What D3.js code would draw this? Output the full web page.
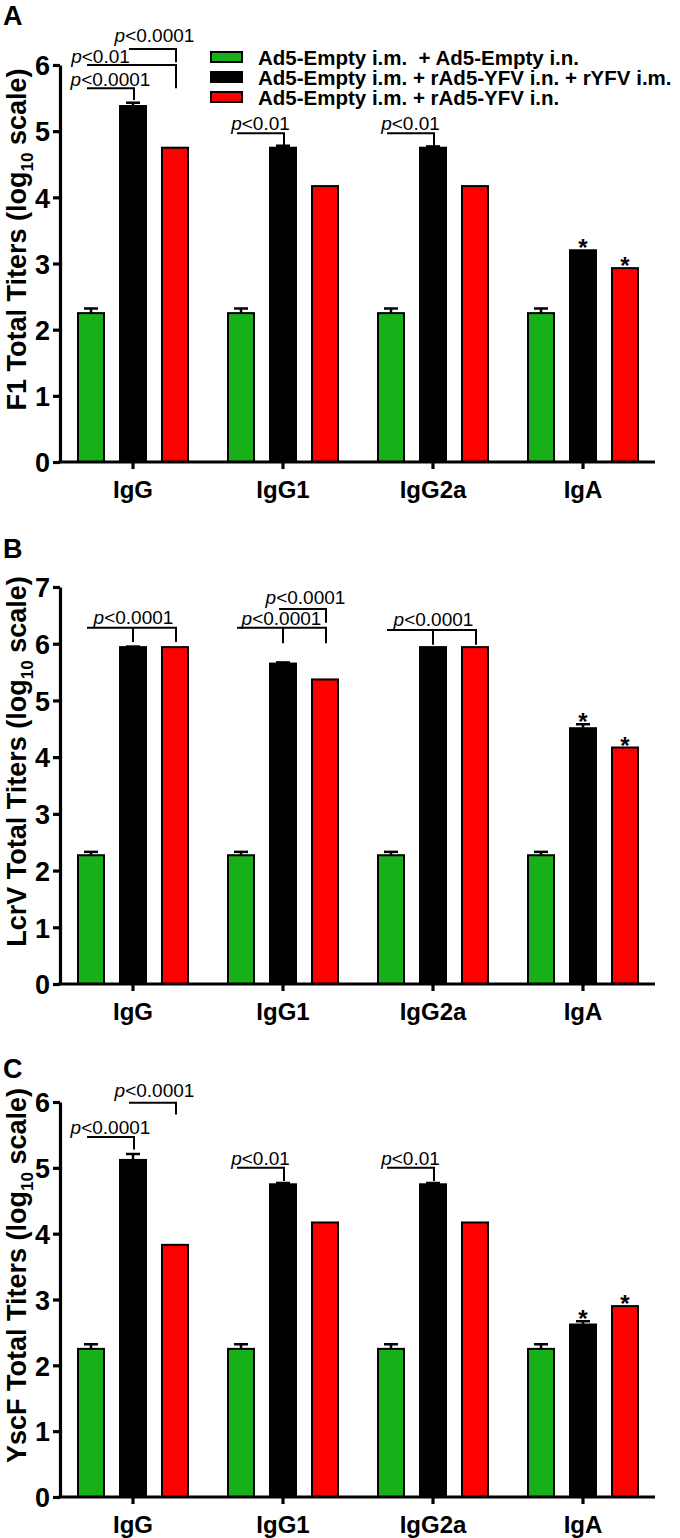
<!DOCTYPE html>
<html><head><meta charset="utf-8">
<script src="https://cdn.jsdelivr.net/npm/d3@7/dist/d3.min.js"></script>
<style>
html,body{margin:0;padding:0;background:#fff;}
svg{display:block;font-family:"Liberation Sans",Arial,sans-serif;}
</style></head>
<body>
<svg id="chart" width="680" height="1538"></svg>
<script>
// ---------- DATA ----------
const categories = ["IgG", "IgG1", "IgG2a", "IgA"];
const seriesNames = [
  "Ad5-Empty i.m.  + Ad5-Empty i.n.",
  "Ad5-Empty i.m. + rAd5-YFV i.n. + rYFV i.m.",
  "Ad5-Empty i.m. + rAd5-YFV i.n."
];
const panelLetters = ["A", "B", "C"];
const panelAntigens = ["F1", "LcrV", "YscF"];
const panelYMax = [6, 7, 6];

// Panel A: F1
const f1Green = [2.25, 2.25, 2.25, 2.25];
const f1Black = [5.38, 4.75, 4.75, 3.20];
const f1Red   = [4.75, 4.17, 4.17, 2.93];
const f1GreenErr = [0.07, 0.07, 0.07, 0.07];
const f1BlackErr = [0.05, 0.03, 0.02, 0.0];
const f1RedErr   = [0, 0, 0, 0];
const f1Stars = [[3, 1], [3, 2]];
const f1Brackets = [
  {cat: 0, from: 0, to: 1, level: 5.65, legs: [[1, 5.47]], label: "<0.0001", dx: 0, dy: -2},
  {cat: 0, from: 0, to: 2, level: 6.00, legs: [[2, 5.65]], label: "<0.01", dx: -31, dy: -2},
  {cat: 0, from: 1, to: 2, level: 6.24, legs: [[2, 6.04]], label: "<0.0001", dx: 2, dy: -7},
  {cat: 1, from: 0, to: 1, level: 4.97, legs: [[1, 4.74]], label: "<0.01", dx: 0, dy: -3},
  {cat: 2, from: 0, to: 1, level: 4.97, legs: [[1, 4.74]], label: "<0.01", dx: 0, dy: -3}
];

// Panel B: LcrV
const lcrvGreen = [2.27, 2.27, 2.27, 2.27];
const lcrvBlack = [5.94, 5.65, 5.94, 4.51];
const lcrvRed   = [5.94, 5.37, 5.94, 4.17];
const lcrvGreenErr = [0.06, 0.06, 0.06, 0.06];
const lcrvBlackErr = [0.01, 0.02, 0.0, 0.07];
const lcrvRedErr   = [0, 0, 0, 0];
const lcrvStars = [[3, 1], [3, 2]];
const lcrvBrackets = [
  {cat: 0, from: 0, to: 2, level: 6.28, legs: [[1, 6.03], [2, 6.03]], label: "<0.0001", dx: 2, dy: -4},
  {cat: 1, from: 0, to: 2, level: 6.28, legs: [[1, 6.01], [2, 6.01]], label: "<0.0001", dx: 0, dy: -3},
  {cat: 1, from: 1, to: 2, level: 6.61, legs: [[2, 6.37]], label: "<0.0001", dx: 3, dy: -5},
  {cat: 2, from: 0, to: 2, level: 6.24, legs: [[1, 5.98], [2, 5.98]], label: "<0.0001", dx: 2, dy: -4}
];

// Panel C: YscF
const yscfGreen = [2.25, 2.25, 2.25, 2.25];
const yscfBlack = [5.12, 4.75, 4.75, 2.62];
const yscfRed   = [3.83, 4.17, 4.17, 2.90];
const yscfGreenErr = [0.07, 0.07, 0.07, 0.07];
const yscfBlackErr = [0.09, 0.02, 0.02, 0.05];
const yscfRedErr   = [0, 0, 0, 0];
const yscfStars = [[3, 1], [3, 2]];
const yscfBrackets = [
  {cat: 0, from: 1, to: 2, level: 5.99, legs: [[2, 5.81]], label: "<0.0001", dx: 2, dy: -6},
  {cat: 0, from: 0, to: 1, level: 5.47, legs: [[1, 5.28]], label: "<0.0001", dx: 0, dy: -3},
  {cat: 1, from: 0, to: 1, level: 5.00, legs: [[1, 4.80]], label: "<0.01", dx: 0, dy: -3},
  {cat: 2, from: 0, to: 1, level: 5.00, legs: [[1, 4.80]], label: "<0.01", dx: 0, dy: -3}
];

// ---------- LAYOUT / STYLE ----------
const colors = ["#18b018", "#000000", "#ff0000"];
const panelTops = [65, 587, 1102];
const panelBottoms = [462, 984, 1497];
const letterBaselines = [25, 558, 1078];
const panelData = [
  {means: [f1Green, f1Black, f1Red], errs: [f1GreenErr, f1BlackErr, f1RedErr], stars: f1Stars, brackets: f1Brackets},
  {means: [lcrvGreen, lcrvBlack, lcrvRed], errs: [lcrvGreenErr, lcrvBlackErr, lcrvRedErr], stars: lcrvStars, brackets: lcrvBrackets},
  {means: [yscfGreen, yscfBlack, yscfRed], errs: [yscfGreenErr, yscfBlackErr, yscfRedErr], stars: yscfStars, brackets: yscfBrackets}
];

const svg = d3.select("#chart");
const x = d3.scaleBand().domain(categories).range([58, 658]);
const off = d3.scalePoint().domain([0, 1, 2]).range([-42, 42]);
const barW = 26;

panelLetters.forEach((letter, pi) => {
  const top = panelTops[pi], bottom = panelBottoms[pi];
  const y = d3.scaleLinear().domain([0, panelYMax[pi]]).range([bottom, top]);
  const g = svg.append("g");
  const pd = panelData[pi];
  const cx = (c, s) => x(categories[c]) + x.bandwidth() / 2 + off(s);

  // panel letter
  g.append("text").attr("x", 3).attr("y", letterBaselines[pi])
    .attr("font-size", 27).attr("font-weight", "bold").text(letter);

  // y axis title
  const t = g.append("text")
    .attr("transform", `translate(26,${(top + bottom) / 2 - 24}) rotate(-90)`)
    .attr("text-anchor", "middle").attr("font-size", 27).attr("font-weight", "bold");
  t.append("tspan").text(panelAntigens[pi] + " Total Titers (log");
  t.append("tspan").attr("font-size", 17).attr("dy", 7).text("10");
  t.append("tspan").attr("dy", -7).text(" scale)");

  // bars
  pd.means.forEach((arr, s) => {
    g.selectAll(null).data(arr).enter().append("rect")
      .attr("x", (d, c) => cx(c, s) - barW / 2)
      .attr("y", d => y(d))
      .attr("width", barW)
      .attr("height", d => y(0) - y(d))
      .attr("fill", colors[s]).attr("stroke", "#000").attr("stroke-width", 2);
    // error bars (upper)
    arr.forEach((d, c) => {
      const e = pd.errs[s][c];
      if (e > 0) {
        const xc = cx(c, s);
        g.append("line").attr("x1", xc).attr("x2", xc).attr("y1", y(d)).attr("y2", y(d + e))
          .attr("stroke", "#000").attr("stroke-width", 2.5);
        g.append("line").attr("x1", xc - 7).attr("x2", xc + 7).attr("y1", y(d + e)).attr("y2", y(d + e))
          .attr("stroke", "#000").attr("stroke-width", 2.5);
      }
    });
  });

  // stars
  pd.stars.forEach(([c, s]) => {
    const topV = pd.means[s][c] + pd.errs[s][c];
    g.append("text").attr("x", cx(c, s)).attr("y", y(topV) + 6)
      .attr("text-anchor", "middle").attr("font-size", 24).attr("font-weight", "bold").text("*");
  });

  // brackets
  pd.brackets.forEach(b => {
    const x1 = cx(b.cat, b.from) - 4, x2 = cx(b.cat, b.to) + 1;
    const yl = y(b.level);
    g.append("line").attr("x1", x1).attr("x2", x2 + 1).attr("y1", yl).attr("y2", yl)
      .attr("stroke", "#000").attr("stroke-width", 2);
    b.legs.forEach(([s, v]) => {
      const xl = s === b.to ? x2 : cx(b.cat, s);
      g.append("line").attr("x1", xl).attr("x2", xl).attr("y1", yl).attr("y2", y(v))
        .attr("stroke", "#000").attr("stroke-width", 2);
    });
    const lt = g.append("text").attr("x", (x1 + x2) / 2 + b.dx).attr("y", yl + b.dy)
      .attr("text-anchor", "middle").attr("font-size", 19);
    lt.append("tspan").attr("font-style", "italic").text("p");
    lt.append("tspan").text(b.label);
  });

  // y axis
  const ya = g.append("g").attr("transform", "translate(60,0)")
    .call(d3.axisLeft(y).ticks(panelYMax[pi]).tickSize(7).tickSizeOuter(0).tickPadding(3).tickFormat(d3.format("d")));
  ya.select(".domain").attr("stroke-width", 3.2);
  ya.selectAll(".tick line").attr("stroke-width", 3.2);
  ya.selectAll(".tick text").attr("font-size", 27).attr("font-weight", "bold")
    .attr("font-family", "Liberation Sans, Arial, sans-serif").attr("fill", "#000").attr("dy", "0.36em");

  // x axis
  const xa = g.append("g").attr("transform", `translate(0,${bottom})`)
    .call(d3.axisBottom(x).tickSize(7).tickSizeOuter(0).tickPadding(12));
  xa.select(".domain").attr("stroke-width", 3.2).attr("d", "M58.5,0H655");
  xa.selectAll(".tick line").attr("stroke-width", 3.2);
  xa.selectAll(".tick text").attr("font-size", 24).attr("font-weight", "bold")
    .attr("font-family", "Liberation Sans, Arial, sans-serif").attr("fill", "#000");

  // legend (panel A only)
  if (pi === 0) {
    const lg = g.append("g");
    seriesNames.forEach((name, s) => {
      const cy = 57 + s * 20;
      lg.append("rect").attr("x", 211).attr("y", cy - 5).attr("width", 31).attr("height", 10)
        .attr("fill", colors[s]).attr("stroke", "#000").attr("stroke-width", 2);
      lg.append("text").attr("x", 258).attr("y", cy + 7.5)
        .attr("font-size", 20.5).attr("font-weight", "bold").style("white-space", "pre").text(name);
    });
  }
});
</script>
</body></html>
